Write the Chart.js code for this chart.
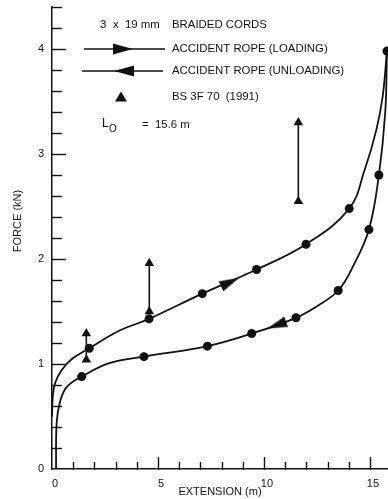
<!DOCTYPE html>
<html><head><meta charset="utf-8">
<script src="https://cdn.jsdelivr.net/npm/chart.js@4/dist/chart.umd.min.js"></script>
<style>html,body{margin:0;padding:0;background:#fff;}#wrap{width:388px;height:499px;}</style>
</head><body><div id="wrap"><canvas id="c" width="388" height="499"></canvas></div>
<script>
// ---- data ----
const loadingX = [0, 0.04, 0.15, 0.45, 0.95, 1.76, 3.1, 4.58, 7.09, 9.65, 11.98, 14.02, 14.75, 15.3, 15.6, 15.8];
const loadingY = [0.50, 0.70, 0.82, 0.94, 1.05, 1.15, 1.31, 1.43, 1.67, 1.90, 2.14, 2.48, 2.85, 3.23, 3.55, 3.98];
const loadingDotsX = [1.76, 4.58, 7.09, 9.65, 11.98, 14.02, 15.8];
const loadingDotsY = [1.15, 1.43, 1.67, 1.90, 2.14, 2.48, 3.98];

const unloadingX = [15.8, 15.72, 15.42, 14.95, 14.2, 13.5, 12.5, 11.51, 9.42, 7.33, 4.34, 2.74, 1.40, 0.69, 0.38, 0.22, 0.19];
const unloadingY = [3.98, 3.40, 2.80, 2.28, 1.93, 1.70, 1.55, 1.44, 1.29, 1.17, 1.07, 1.01, 0.88, 0.78, 0.64, 0.44, 0.00];
const unloadingDotsX = [15.42, 14.95, 13.5, 11.51, 9.42, 7.33, 4.34, 1.40];
const unloadingDotsY = [2.80, 2.28, 1.70, 1.44, 1.29, 1.17, 1.07, 0.88];

const bsX = [1.62, 4.59, 11.62];
const bsLow = [1.04, 1.50, 2.55];
const bsHigh = [1.29, 1.96, 3.30];

const arrowX = [8.4, 10.6];
const arrowY = [1.78, 1.37];

const xTickLabels = [0, 5, 10, 15];
const yTickLabels = [0, 1, 2, 3, 4];

const legendTexts = ['BRAIDED CORDS', 'ACCIDENT ROPE (LOADING)', 'ACCIDENT ROPE (UNLOADING)', 'BS 3F 70  (1991)'];

// ---- helpers ----
const pts = (xs, ys) => xs.map((x, i) => ({x: x, y: ys[i]}));
const FONT = "'Liberation Sans', Arial, Helvetica, sans-serif";
const INK = '#111';

function arrowCanvas() {
  const c = document.createElement('canvas');
  c.width = 20; c.height = 11;
  const g = c.getContext('2d');
  g.fillStyle = INK;
  g.beginPath(); g.moveTo(20, 5.5); g.lineTo(0, 0); g.lineTo(0, 11); g.closePath(); g.fill();
  return c;
}
const arrowImg = arrowCanvas();

const bsDatasets = bsX.map((x, i) => ({
  data: [{x: x, y: bsLow[i]}, {x: x, y: bsHigh[i]}],
  showLine: true, borderColor: INK, borderWidth: 1.6,
  pointStyle: 'triangle', pointRadius: 5.5, pointBackgroundColor: INK, pointBorderColor: INK, pointBorderWidth: 0
}));

const decor = {
  id: 'decor',
  afterDraw(chart) {
    const ctx = chart.ctx, xs = chart.scales.x, ys = chart.scales.y, ca = chart.chartArea;
    ctx.save();
    ctx.strokeStyle = INK; ctx.lineWidth = 1.4;
    ys.ticks.forEach(t => {
      const v = t.value;
      if (v <= 0 || Math.abs(v / 0.2 - Math.round(v / 0.2)) > 1e-6) return;
      const major = Math.abs(v - Math.round(v)) < 1e-6;
      const py = Math.round(ys.getPixelForValue(v)) + 0.5;
      ctx.beginPath(); ctx.moveTo(ca.left - 1, py); ctx.lineTo(ca.left + (major ? 14 : 10), py); ctx.stroke();
    });
    xs.ticks.forEach(t => {
      const v = t.value;
      if (v <= 0 || Math.abs(v - Math.round(v)) > 1e-6) return;
      const major = Math.round(v) % 5 === 0;
      const px = Math.round(xs.getPixelForValue(v)) + 0.5;
      ctx.beginPath(); ctx.moveTo(px, ca.bottom + 1); ctx.lineTo(px, ca.bottom - (major ? 12 : 7)); ctx.stroke();
    });
    // y axis title
    ctx.fillStyle = INK;
    ctx.font = '11px ' + FONT;
    ctx.textAlign = 'center'; ctx.textBaseline = 'middle';
    ctx.save(); ctx.translate(18, 221); ctx.rotate(-Math.PI / 2); ctx.fillText('FORCE (kN)', 0, 0); ctx.restore();
    // legend block
    ctx.textAlign = 'left';
    ctx.font = '11.4px ' + FONT;
    ctx.fillText('3', 100, 25); ctx.fillText('x', 113, 25); ctx.fillText('19 mm', 125, 25);
    ctx.fillText(legendTexts[0], 172, 25);
    ctx.lineWidth = 1.6;
    ctx.beginPath(); ctx.moveTo(84, 49); ctx.lineTo(165, 49); ctx.stroke();
    ctx.beginPath(); ctx.moveTo(133, 49); ctx.lineTo(113, 43.5); ctx.lineTo(113, 54.5); ctx.closePath(); ctx.fill();
    ctx.fillText(legendTexts[1], 172, 49);
    ctx.beginPath(); ctx.moveTo(82, 71); ctx.lineTo(163, 71); ctx.stroke();
    ctx.beginPath(); ctx.moveTo(114, 71); ctx.lineTo(134, 65.5); ctx.lineTo(134, 76.5); ctx.closePath(); ctx.fill();
    ctx.fillText(legendTexts[2], 172, 71);
    ctx.beginPath(); ctx.moveTo(121, 91.5); ctx.lineTo(127, 101.5); ctx.lineTo(115, 101.5); ctx.closePath(); ctx.fill();
    ctx.fillText(legendTexts[3], 172, 97);
    ctx.font = '12px ' + FONT; ctx.fillText('L', 102, 124);
    ctx.font = '10px ' + FONT; ctx.fillText('O', 109, 129);
    ctx.font = '11.4px ' + FONT; ctx.fillText('=', 142, 125); ctx.fillText('15.6 m', 155, 125);
    ctx.restore();
  }
};

new Chart(document.getElementById('c'), {
  type: 'scatter',
  data: {
    datasets: [
      {data: pts(loadingX, loadingY), showLine: true, tension: 0.4, borderColor: INK, borderWidth: 1.8, pointRadius: 0},
      {data: pts(unloadingX, unloadingY), showLine: true, tension: 0.4, borderColor: INK, borderWidth: 1.8, pointRadius: 0},
      {data: pts(loadingDotsX, loadingDotsY), pointRadius: 4.5, pointBackgroundColor: INK, pointBorderColor: INK, pointBorderWidth: 0},
      {data: pts(unloadingDotsX, unloadingDotsY), pointRadius: 4.5, pointBackgroundColor: INK, pointBorderColor: INK, pointBorderWidth: 0},
      ...bsDatasets,
      {data: pts(arrowX, arrowY), pointStyle: arrowImg, rotation: [-25, 160], pointRadius: 10}
    ]
  },
  options: {
    responsive: false, devicePixelRatio: 1, animation: false,
    layout: {autoPadding: false, padding: {top: 7, right: 0, left: 0, bottom: 0}},
    plugins: {legend: {display: false}, tooltip: {enabled: false}},
    elements: {point: {hoverRadius: 0}},
    scales: {
      x: {
        type: 'linear', min: 0, max: 15.85,
        grid: {drawOnChartArea: false, drawTicks: false},
        border: {display: true, color: INK, width: 1.5},
        ticks: {stepSize: 1, includeBounds: false, padding: 8, labelOffset: 3, color: INK, font: {family: FONT, size: 11},
          maxRotation: 0, autoSkip: false,
          callback: v => xTickLabels.includes(v) ? String(v) : ''},
        title: {display: true, text: 'EXTENSION (m)', color: INK, font: {family: FONT, size: 11}, padding: {top: 0, bottom: 0}},
        afterFit: s => { s.height = 30; s.paddingLeft = 0; s.paddingRight = 0; }
      },
      y: {
        type: 'linear', min: 0, max: 4.4,
        grid: {drawOnChartArea: false, drawTicks: false},
        border: {display: true, color: INK, width: 1.5},
        ticks: {stepSize: 0.2, padding: 8, color: INK, font: {family: FONT, size: 11}, autoSkip: false,
          callback: v => yTickLabels.some(t => Math.abs(t - v) < 1e-6) ? String(Math.round(v)) : ''},
        afterFit: s => { s.width = 52; s.paddingTop = 0; s.paddingBottom = 0; }
      }
    }
  },
  plugins: [decor]
});
</script></body></html>
